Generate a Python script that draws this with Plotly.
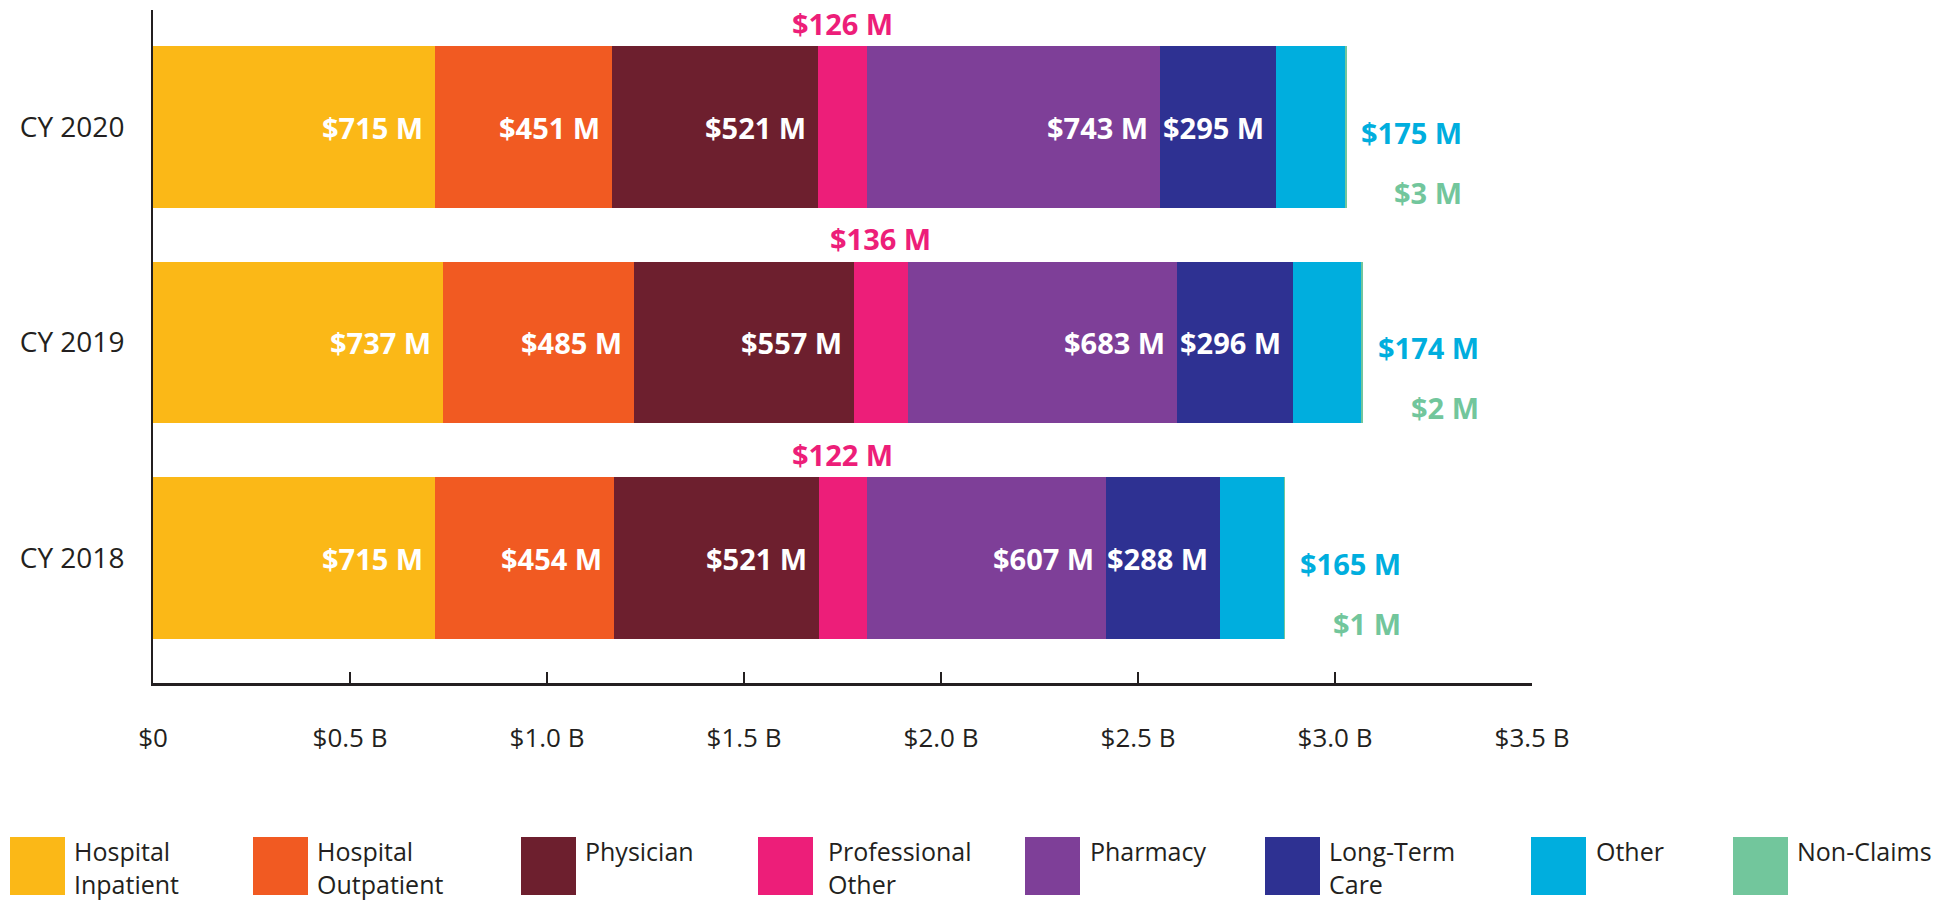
import plotly.graph_objects as go

# ---------------- data (millions of dollars) ----------------
years = ["CY 2018", "CY 2019", "CY 2020"]
series_names = ["Hospital Inpatient", "Hospital Outpatient", "Physician", "Professional Other",
                "Pharmacy", "Long-Term Care", "Other", "Non-Claims"]
legend_labels = ["Hospital<br>Inpatient", "Hospital<br>Outpatient", "Physician", "Professional<br>Other",
                 "Pharmacy", "Long-Term<br>Care", "Other", "Non-Claims"]
hospital_inpatient = [715, 737, 715]
hospital_outpatient = [454, 485, 451]
physician = [521, 557, 521]
professional_other = [122, 136, 126]
pharmacy = [607, 683, 743]
long_term_care = [288, 296, 295]
other = [165, 174, 175]
non_claims = [1, 2, 3]
x_tickvals = [0, 0.5, 1.0, 1.5, 2.0, 2.5, 3.0, 3.5]
x_ticktext = ["$0", "$0.5 B", "$1.0 B", "$1.5 B", "$2.0 B", "$2.5 B", "$3.0 B", "$3.5 B"]

series = [hospital_inpatient, hospital_outpatient, physician, professional_other,
          pharmacy, long_term_care, other, non_claims]
colors = ["#FBB817", "#F15A22", "#6D1F2E", "#ED1E79", "#7E3F98", "#2E3192", "#00AEDE", "#72C69C"]

TXT = "#231F20"
FONT = "Open Sans"
LBL = 29

fig = go.Figure()
for name, vals, col in zip(series_names, series, colors):
    fig.add_trace(go.Bar(
        y=years, x=[v / 1000 for v in vals], orientation="h", name=name,
        marker=dict(color=col, line=dict(width=0)), width=0.75, showlegend=False,
        hoverinfo="skip"))

annotations = []
cum = [0, 0, 0]
for si, vals in enumerate(series):
    for yi, v in enumerate(vals):
        start = cum[yi]
        end = start + v
        label = f"${v} M"
        if si in (0, 1, 2, 4, 5):
            annotations.append(dict(x=end / 1000, y=years[yi], xref="x", yref="y", text=label,
                                    showarrow=False, xanchor="right", xshift=-10,
                                    font=dict(family=FONT, size=LBL, color="white", weight="bold")))
        elif si == 3:
            annotations.append(dict(x=(start + v / 2) / 1000, y=years[yi], xref="x", yref="y", text=label,
                                    showarrow=False, xanchor="center", yshift=104,
                                    font=dict(family=FONT, size=LBL, color=colors[3], weight="bold")))
        cum[yi] = end

for yi in range(3):
    total = cum[yi]
    annotations.append(dict(x=total / 1000, y=years[yi], xref="x", yref="y", text=f"${other[yi]} M",
                            showarrow=False, xanchor="right", xshift=118, yshift=-5,
                            font=dict(family=FONT, size=LBL, color=colors[6], weight="bold")))
    annotations.append(dict(x=total / 1000, y=years[yi], xref="x", yref="y", text=f"${non_claims[yi]} M",
                            showarrow=False, xanchor="right", xshift=118, yshift=-65,
                            font=dict(family=FONT, size=LBL, color=colors[7], weight="bold")))

# ---------------- custom legend ----------------
L, R, T, B = 153, 1532, 10, 683
def px_x(p):
    return (p - L) / (R - L)
def px_y(p):
    return (B - p) / (B - T)

sq_left = [10, 253, 521, 758, 1025, 1265, 1531, 1733]
txt_left = [73, 316, 584, 827, 1089, 1328, 1595, 1796]
shapes = []
for i in range(8):
    shapes.append(dict(type="rect", xref="paper", yref="paper",
                       x0=px_x(sq_left[i]), x1=px_x(sq_left[i] + 55),
                       y0=px_y(837), y1=px_y(895),
                       fillcolor=colors[i], line=dict(width=0)))
    annotations.append(dict(x=px_x(txt_left[i]), y=px_y(833), xref="paper", yref="paper",
                            text=legend_labels[i], showarrow=False, xanchor="left", yanchor="top",
                            align="left", borderpad=0,
                            font=dict(family=FONT, size=25, color=TXT)))

fig.update_layout(
    width=1954, height=903,
    margin=dict(l=L, r=1954 - R, t=T, b=903 - B),
    barmode="stack", bargap=0,
    plot_bgcolor="white", paper_bgcolor="white",
    showlegend=False,
    annotations=annotations, shapes=shapes,
    font=dict(family=FONT, color=TXT),
    xaxis=dict(range=[0, 3.5], tickvals=x_tickvals, ticktext=x_ticktext,
               showgrid=False, zeroline=False, showline=True, linecolor=TXT, linewidth=3,
               ticks="inside", ticklen=11, tickwidth=2, tickcolor=TXT,
               ticklabelstandoff=30, tickfont=dict(family=FONT, size=26, color=TXT)),
    yaxis=dict(range=[-0.58, 2.543], showgrid=False, zeroline=False, showline=True,
               linecolor=TXT, linewidth=2, ticks="", ticklabelstandoff=21,
               tickfont=dict(family=FONT, size=28, color=TXT)),
)

fig.write_html("out.html", config={"displayModeBar": False},
               post_script="document.body.style.margin='0';document.body.style.overflow='hidden';")
